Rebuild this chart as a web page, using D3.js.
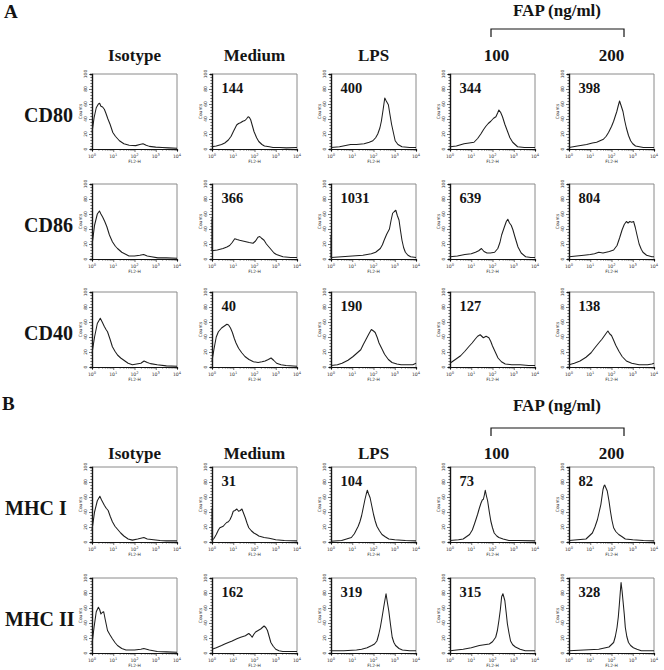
<!DOCTYPE html>
<html><head><meta charset="utf-8">
<script src="https://cdn.jsdelivr.net/npm/d3@7"></script>
<style>body{margin:0;background:#fff}svg{display:block}</style>
</head><body>
<svg id="c" width="664" height="670"></svg>
<script>
// ---------- labels ----------
const columns = ["Isotype", "Medium", "LPS", "100", "200"];
const rowNames = ["CD80", "CD86", "CD40", "MHC I", "MHC II"];
const panelLetters = ["A", "B"];
const groupTitle = "FAP (ng/ml)";
const yTickValues = [0, 20, 40, 60, 80, 100];
const xTickExponents = [0, 1, 2, 3, 4];
const xAxisLabel = "FL2-H";
const yAxisLabel = "Counts";

// ---------- MFI numbers shown in panels (Isotype has none) ----------
const mfiCD80 = [null, 144, 400, 344, 398];
const mfiCD86 = [null, 366, 1031, 639, 804];
const mfiCD40 = [null, 40, 190, 127, 138];
const mfiMHC1 = [null, 31, 104, 73, 82];
const mfiMHC2 = [null, 162, 319, 315, 328];

// ---------- first-channel spikes (counts) ----------
const spikeCD80 = [0, 0, 0, 0, 0];
const spikeCD86 = [0, 54, 32, 0, 0];
const spikeCD40 = [0, 0, 0, 0, 0];
const spikeMHC1 = [0, 45, 0, 0, 0];
const spikeMHC2 = [0, 0, 0, 0, 0];

// ---------- histograms: [log10(FL2-H), counts] ----------
const cd80_iso = [[0,22],[0.1,42],[0.2,55],[0.3,60],[0.36,61],[0.42,57],[0.5,56],[0.58,53],[0.65,48],[0.75,40],[0.85,33],[0.98,22],[1.1,17],[1.29,11],[1.5,7],[1.75,5],[2.06,4.5],[2.25,6],[2.4,7],[2.55,5],[2.7,3.5],[3.0,2.5],[3.3,2],[3.6,1.5],[4,1]];
const cd80_med = [[0,3],[0.2,4],[0.45,6],[0.6,8],[0.77,12],[0.9,17],[1.0,23],[1.16,32],[1.25,34],[1.34,35],[1.45,37],[1.55,38],[1.62,40],[1.7,43],[1.76,42],[1.82,39],[1.9,31],[1.98,23],[2.1,15],[2.2,10],[2.35,6],[2.47,4],[2.7,3],[2.87,2],[3.2,2],[3.5,1.5],[4,2]];
const cd80_lps = [[0,2],[0.4,3],[0.92,6],[1.2,6],[1.56,7],[1.8,9],[1.97,11],[2.1,15],[2.2,20],[2.3,28],[2.37,37],[2.45,52],[2.53,68],[2.6,64],[2.7,59],[2.78,45],[2.85,33],[2.95,20],[3.02,11],[3.15,6],[3.34,3],[3.7,2],[4,2]];
const cd80_100 = [[0,3],[0.3,4],[0.66,7],[0.9,8],[1.13,9],[1.3,14],[1.45,20],[1.58,26],[1.68,30],[1.8,34],[1.92,37],[2.05,41],[2.16,43],[2.24,48],[2.3,52],[2.38,49],[2.47,43],[2.58,33],[2.7,24],[2.82,15],[2.95,9],[3.18,3],[3.5,2],[4,2]];
const cd80_200 = [[0,2],[0.4,4],[0.83,6],[1.1,8],[1.3,9],[1.62,13],[1.75,17],[1.86,22],[2.0,30],[2.1,37],[2.18,44],[2.25,50],[2.32,58],[2.38,64],[2.45,58],[2.54,50],[2.62,38],[2.7,28],[2.8,18],[2.9,11],[3.0,7],[3.13,4],[3.5,2],[4,2]];

const cd86_iso = [[0,18],[0.12,45],[0.25,60],[0.35,64],[0.42,60],[0.5,56],[0.6,50],[0.7,43],[0.82,32],[0.96,23],[1.1,17],[1.2,14],[1.4,9],[1.74,4],[2.0,4],[2.25,5],[2.43,6],[2.6,4],[2.8,3],[3.1,1.5],[3.5,1.5],[4,1]];
const cd86_med = [[0,11],[0.25,12],[0.52,14],[0.7,16],[0.83,18],[0.95,22],[1.07,27],[1.18,26],[1.3,25],[1.45,24],[1.6,23],[1.75,22],[1.93,21],[2.05,24],[2.16,29],[2.25,30],[2.32,28],[2.45,25],[2.56,20],[2.68,16],[2.8,12],[2.92,8],[3.03,6],[3.34,3],[3.7,2],[4,2]];
const cd86_lps = [[0,2],[0.5,3],[1.0,4],[1.5,5],[1.9,7],[2.1,9],[2.32,14],[2.42,19],[2.5,25],[2.62,33],[2.75,40],[2.83,52],[2.9,61],[2.97,63],[3.05,65],[3.12,58],[3.2,52],[3.27,38],[3.34,25],[3.42,15],[3.5,9],[3.62,5],[3.75,3],[4,2]];
const cd86_100 = [[0,3],[0.35,4],[0.7,6],[1.0,7],[1.2,9],[1.35,11],[1.48,14],[1.6,10],[1.74,8],[1.9,8],[2.1,9],[2.25,14],[2.35,22],[2.43,32],[2.55,42],[2.65,50],[2.72,53],[2.8,48],[2.88,45],[2.96,39],[3.05,30],[3.2,16],[3.35,8],[3.56,3],[3.8,2],[4,2]];
const cd86_200 = [[0,3],[0.35,4],[0.7,5],[1.0,6],[1.2,7],[1.4,9],[1.6,8],[1.9,10],[2.1,12],[2.26,18],[2.38,28],[2.5,39],[2.6,46],[2.7,50],[2.78,48],[2.86,50],[2.95,49],[3.04,50],[3.12,42],[3.2,32],[3.3,20],[3.4,13],[3.48,9],[3.65,5],[3.9,3],[4,3]];

const cd40_iso = [[0,18],[0.12,40],[0.25,58],[0.39,65],[0.48,60],[0.58,54],[0.66,50],[0.73,47],[0.85,37],[0.96,27],[1.08,21],[1.2,16],[1.35,12],[1.5,9],[1.7,5],[1.9,3],[2.1,4],[2.3,5],[2.45,8],[2.6,6],[2.75,4.5],[3.07,3],[3.5,1.5],[4,1]];
const cd40_med = [[0,8],[0.1,25],[0.2,40],[0.3,47],[0.45,52],[0.6,55],[0.7,57],[0.78,56],[0.87,52],[0.96,46],[1.05,38],[1.13,32],[1.25,25],[1.4,19],[1.55,14],[1.74,10],[1.95,7],[2.17,6],[2.35,7],[2.5,8],[2.65,10],[2.78,12],[2.9,9],[3.04,5],[3.25,3],[3.48,2],[4,1]];
const cd40_lps = [[0,2],[0.3,3],[0.52,5],[0.8,9],[1.04,14],[1.2,18],[1.4,23],[1.52,30],[1.65,37],[1.78,44],[1.9,50],[2.0,48],[2.08,46],[2.18,39],[2.26,32],[2.4,24],[2.52,17],[2.7,10],[2.87,6],[3.1,4],[3.3,3],[3.6,3],[3.85,3],[4,5]];
const cd40_100 = [[0,5],[0.15,8],[0.35,12],[0.5,15],[0.7,21],[0.88,27],[1.04,32],[1.18,37],[1.3,41],[1.42,43],[1.57,39],[1.7,41],[1.83,39],[1.92,34],[2.0,28],[2.13,20],[2.26,12],[2.42,7],[2.6,4],[2.9,3],[3.3,3],[3.7,2],[4,2]];
const cd40_200 = [[0,3],[0.25,5],[0.52,8],[0.8,13],[1.04,19],[1.2,25],[1.4,32],[1.55,37],[1.65,41],[1.75,45],[1.83,48],[1.92,44],[2.0,42],[2.08,37],[2.2,29],[2.35,21],[2.5,14],[2.7,8],[2.95,5],[3.3,3],[3.7,3],[3.9,4],[4,5]];

const mhc1_iso = [[0,16],[0.12,40],[0.25,55],[0.37,61],[0.45,56],[0.58,49],[0.67,45],[0.76,42],[0.86,34],[0.96,27],[1.08,21],[1.2,17],[1.35,12],[1.5,8],[1.7,4],[1.9,2.5],[2.15,4],[2.3,5],[2.44,6],[2.6,4],[2.9,3],[3.2,2],[3.5,1.5],[4,1.5]];
const mhc1_med = [[0,2],[0.1,5],[0.2,10],[0.3,16],[0.37,19],[0.45,20],[0.53,21],[0.62,24],[0.69,26],[0.77,27],[0.85,30],[0.93,35],[1.0,41],[1.08,42],[1.17,44],[1.25,41],[1.33,42],[1.41,44],[1.49,38],[1.57,32],[1.65,25],[1.73,19],[1.85,15],[1.97,12],[2.1,10],[2.2,8],[2.45,6],[2.69,5],[2.85,4],[3.0,3],[3.4,2],[4,1.5]];
const mhc1_lps = [[0,1],[0.5,2],[0.96,6],[1.1,11],[1.28,21],[1.36,27],[1.44,35],[1.52,46],[1.6,57],[1.66,64],[1.71,69],[1.77,64],[1.84,59],[1.92,48],[2.0,37],[2.08,28],[2.16,21],[2.28,15],[2.4,10],[2.55,7],[2.72,4],[3.0,3],[3.5,2],[4,1.5]];
const mhc1_100 = [[0,2],[0.4,3],[0.62,4],[0.92,10],[1.05,16],[1.15,24],[1.22,30],[1.3,37],[1.38,45],[1.46,52],[1.52,56],[1.57,57],[1.62,63],[1.66,69],[1.71,62],[1.77,55],[1.85,40],[1.92,28],[2.0,19],[2.08,12],[2.2,8],[2.3,6],[2.5,4],[2.77,2],[3.2,2],[4,1.5]];
const mhc1_200 = [[0,2],[0.4,3],[0.8,4],[1.1,12],[1.22,20],[1.34,30],[1.42,40],[1.5,50],[1.56,62],[1.6,70],[1.65,75],[1.68,76],[1.74,72],[1.8,68],[1.88,55],[1.95,41],[2.02,29],[2.1,19],[2.2,14],[2.34,10],[2.5,7],[2.65,4],[3.0,3],[3.5,2],[4,1.5]];

const mhc2_iso = [[0,12],[0.1,35],[0.2,55],[0.3,61],[0.36,58],[0.42,52],[0.48,54],[0.55,55],[0.62,45],[0.73,30],[0.85,24],[0.96,19],[1.08,14],[1.2,10],[1.4,6],[1.6,4],[2.0,4],[2.3,5],[2.44,6],[2.7,4],[3.07,2],[3.5,1.5],[4,1]];
const mhc2_med = [[0,5],[0.2,7],[0.45,10],[0.6,12],[0.77,14],[0.95,16],[1.17,19],[1.35,21],[1.57,23],[1.73,26],[1.81,24],[1.89,21],[1.97,25],[2.05,28],[2.17,30],[2.29,32],[2.37,34],[2.45,36],[2.53,34],[2.61,30],[2.69,22],[2.77,14],[2.88,9],[3.0,5],[3.15,3],[3.33,2],[4,2]];
const mhc2_lps = [[0,3],[0.6,3],[1.2,4],[1.44,5],[1.7,7],[1.92,10],[2.05,12],[2.16,16],[2.24,24],[2.32,34],[2.4,47],[2.48,61],[2.54,71],[2.59,79],[2.65,68],[2.72,56],[2.8,38],[2.88,21],[2.96,14],[3.04,10],[3.2,6],[3.36,4],[3.7,3],[4,3]];
const mhc2_100 = [[0,3],[0.62,5],[1.0,7],[1.38,10],[1.85,12],[2.0,15],[2.15,21],[2.23,30],[2.3,43],[2.37,58],[2.43,75],[2.49,79],[2.54,74],[2.58,70],[2.64,55],[2.7,39],[2.78,26],[2.85,16],[2.95,11],[3.08,8],[3.3,5],[3.54,3],[4,3]];
const mhc2_200 = [[0,3],[0.7,4],[1.4,5],[1.88,8],[2.1,14],[2.18,22],[2.26,34],[2.32,48],[2.37,65],[2.41,80],[2.45,94],[2.5,82],[2.54,70],[2.6,52],[2.65,34],[2.72,22],[2.8,14],[2.9,10],[3.03,7],[3.2,5],[3.4,3],[4,3]];

// ---------- table built from the arrays ----------
const histTable = [
  [cd80_iso, cd80_med, cd80_lps, cd80_100, cd80_200],
  [cd86_iso, cd86_med, cd86_lps, cd86_100, cd86_200],
  [cd40_iso, cd40_med, cd40_lps, cd40_100, cd40_200],
  [mhc1_iso, mhc1_med, mhc1_lps, mhc1_100, mhc1_200],
  [mhc2_iso, mhc2_med, mhc2_lps, mhc2_100, mhc2_200]
];
const mfiTable = [mfiCD80, mfiCD86, mfiCD40, mfiMHC1, mfiMHC2];
const spikeTable = [spikeCD80, spikeCD86, spikeCD40, spikeMHC1, spikeMHC2];

// ---------- layout ----------
const svg = d3.select("#c");
const serif = "'Liberation Serif','Times New Roman',serif";
const boxW = 85, boxH = 75;
const colX = [92, 212, 331, 450, 569];
const rowY = [74, 184, 292, 467, 578];
const rowLabelX = [24, 24, 24, 5, 5];
const ink = "#141414";

// section letters
svg.append("text").attr("x", 4).attr("y", 18).text(panelLetters[0])
  .attr("font-family", serif).attr("font-weight", "bold").attr("font-size", 19).attr("fill", ink);
svg.append("text").attr("x", 2).attr("y", 410).text(panelLetters[1])
  .attr("font-family", serif).attr("font-weight", "bold").attr("font-size", 19).attr("fill", ink);

// section headers
function headers(titleBase, bracketY, headerBase) {
  svg.append("text").attr("x", 557).attr("y", titleBase).attr("text-anchor", "middle")
    .attr("font-family", serif).attr("font-weight", "bold").attr("font-size", 17).attr("fill", ink)
    .text(groupTitle);
  svg.append("path")
    .attr("d", `M491,${bracketY + 8}V${bracketY}H624V${bracketY + 8}`)
    .attr("fill", "none").attr("stroke", ink).attr("stroke-width", 1.2);
  columns.forEach((c, i) => {
    const cx = colX[i] + boxW / 2 + (i === 3 ? 4 : 0);
    svg.append("text").attr("x", cx).attr("y", headerBase).attr("text-anchor", "middle")
      .attr("font-family", serif).attr("font-weight", "bold").attr("font-size", 17).attr("fill", ink)
      .text(c);
  });
}
headers(16, 29, 61);
headers(411, 428, 459);

// panels
const x = d3.scaleLog().domain([1, 1e4]).range([0, boxW]);
const y = d3.scaleLinear().domain([0, 100]).range([boxH, 0]);
const line = d3.line().x(d => x(Math.pow(10, d[0]))).y(d => y(d[1]));

const minorX = [];
for (let e = 0; e < 4; e++) for (let m = 1; m < 10; m++) minorX.push(m * Math.pow(10, e));
minorX.push(1e4);
const minorY = d3.range(0, 101, 4);

rowNames.forEach((rn, r) => {
  svg.append("text").attr("x", rowLabelX[r]).attr("y", rowY[r] + boxH / 2 + 10)
    .attr("font-family", serif).attr("font-weight", "bold").attr("font-size", 20).attr("fill", ink)
    .text(rn);
  columns.forEach((cn, c) => {
    const g = svg.append("g").attr("transform", `translate(${colX[c]},${rowY[r]})`);
    g.append("path").attr("d", `M0,0H${boxW}V${boxH}`).attr("fill", "none")
      .attr("stroke", "#8a8a8a").attr("stroke-width", 1);
    const xa = g.append("g").attr("transform", `translate(0,${boxH})`)
      .call(d3.axisBottom(x).tickValues(minorX).tickSize(2).tickFormat(""));
    xa.selectAll("line").attr("stroke", ink).attr("stroke-width", 0.6)
      .attr("y2", d => (Math.abs(Math.log10(d) - Math.round(Math.log10(d))) < 1e-9 ? 3 : 1.6));
    xa.select(".domain").attr("stroke", ink).attr("stroke-width", 1.2);
    xTickExponents.forEach(e => {
      const t = g.append("text").attr("x", x(Math.pow(10, e))).attr("y", boxH + 8.5)
        .attr("text-anchor", "middle").attr("font-family", "DejaVu Sans, sans-serif")
        .attr("font-size", 4.6).attr("fill", "#333");
      t.append("tspan").text("10");
      t.append("tspan").attr("dy", -2).attr("font-size", 3.6).text(e);
    });
    g.append("text").attr("x", boxW / 2).attr("y", boxH + 14).attr("text-anchor", "middle")
      .attr("font-family", "DejaVu Sans, sans-serif").attr("font-size", 4.4).attr("fill", "#333")
      .text(xAxisLabel);
    const ya = g.append("g").call(d3.axisLeft(y).tickValues(minorY).tickSize(2).tickFormat(""));
    ya.selectAll("line").attr("stroke", ink).attr("stroke-width", 0.6)
      .attr("x2", d => (d % 20 === 0 ? -3 : -1.6));
    ya.select(".domain").attr("stroke", ink).attr("stroke-width", 1.4);
    yTickValues.forEach(v => {
      g.append("text").attr("transform", `translate(-5,${y(v)}) rotate(-90)`)
        .attr("text-anchor", "middle").attr("font-family", "DejaVu Sans, sans-serif")
        .attr("font-size", 4.4).attr("fill", "#333").text(v);
    });
    g.append("text").attr("transform", `translate(-10.5,${boxH / 2}) rotate(-90)`)
      .attr("text-anchor", "middle").attr("font-family", "DejaVu Sans, sans-serif")
      .attr("font-size", 4.4).attr("fill", "#333").text(yAxisLabel);
    const data = histTable[r][c];
    const sp = spikeTable[r][c];
    const pts = sp > 0 ? [[0, sp]].concat(data) : data;
    g.append("path").attr("d", line(pts)).attr("fill", "none")
      .attr("stroke", "#1e1e1e").attr("stroke-width", 1.05).attr("stroke-linejoin", "round");
    const v = mfiTable[r][c];
    if (v !== null) {
      g.append("text").attr("x", 9.5).attr("y", 19).attr("font-family", serif)
        .attr("font-weight", "bold").attr("font-size", 14.5).attr("fill", ink).text(v);
    }
  });
});
</script>
</body></html>
